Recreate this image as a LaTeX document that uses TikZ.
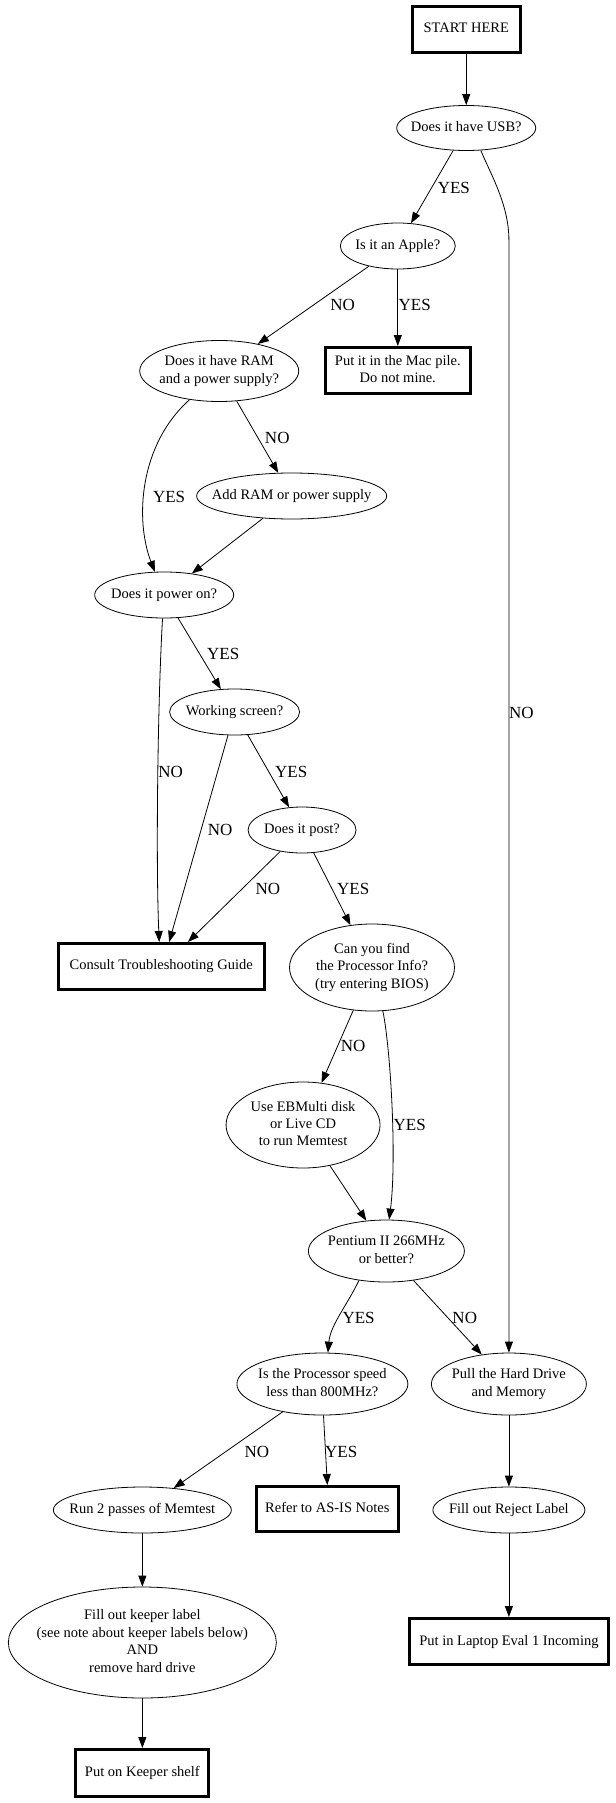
\documentclass[tikz,border=0pt]{standalone}
\usepackage{fontspec}
\setmainfont{Liberation Serif}
\usetikzlibrary{shapes.geometric, arrows.meta, calc}
\newcommand\nodetxt[1]{\makebox[0pt]{\begin{tabular}{@{}c@{}}#1\end{tabular}}}
\begin{document}
\begin{tikzpicture}[x=0.992pt, y=-1pt,
  ell/.style={ellipse, draw, line width=0.8pt, inner sep=0pt, font=\fontsize{14.5}{17.4}\selectfont},
  bx/.style={rectangle, draw, line width=3pt, inner sep=0pt, font=\fontsize{14.5}{17.4}\selectfont},
  edge/.style={draw, line width=0.8pt, -{Triangle[length=11pt,width=8pt]}},
  lbl/.style={inner sep=0pt, font=\fontsize{17}{20}\selectfont}]
\useasboundingbox (0,0) rectangle (620,1803);
% nodes
\node[bx, minimum width=108pt, minimum height=46pt] (start) at (470,29.5) {\nodetxt{START HERE}};
\node[ell, minimum width=139pt, minimum height=45pt] (usb) at (470,128) {\nodetxt{Does it have USB?}};
\node[ell, minimum width=115pt, minimum height=46pt] (apple) at (401,246) {\nodetxt{Is it an Apple?}};
\node[ell, minimum width=159pt, minimum height=61pt] (ram) at (221,371) {\nodetxt{Does it have RAM\\and a power supply?}};
\node[bx, minimum width=145pt, minimum height=46pt] (mac) at (401,370.5) {\nodetxt{Put it in the Mac pile.\\Do not mine.}};
\node[ell, minimum width=190pt, minimum height=46pt] (addram) at (294,496) {\nodetxt{Add RAM or power supply}};
\node[ell, minimum width=139pt, minimum height=46pt] (power) at (165.5,595) {\nodetxt{Does it power on?}};
\node[ell, minimum width=130pt, minimum height=46pt] (working) at (236.5,712) {\nodetxt{Working screen?}};
\node[ell, minimum width=108pt, minimum height=46pt] (post) at (304.5,830) {\nodetxt{Does it post?}};
\node[bx, minimum width=206pt, minimum height=46pt] (consult) at (162.5,966.5) {\nodetxt{Consult Troubleshooting Guide}};
\node[ell, minimum width=165pt, minimum height=87pt] (canyou) at (375,967.5) {\nodetxt{Can you find\\the Processor Info?\\(try entering BIOS)}};
\node[ell, minimum width=154pt, minimum height=86pt] (ebmulti) at (305.5,1125) {\nodetxt{Use EBMulti disk\\or Live CD\\to run Memtest}};
\node[ell, minimum width=156pt, minimum height=62pt] (pentium) at (389.5,1251) {\nodetxt{Pentium II 266MHz\\or better?}};
\node[ell, minimum width=171pt, minimum height=62pt] (procspeed) at (325,1384) {\nodetxt{Is the Processor speed\\less than 800MHz?}};
\node[ell, minimum width=155pt, minimum height=62pt] (pull) at (513,1384) {\nodetxt{Pull the Hard Drive\\and Memory}};
\node[ell, minimum width=178pt, minimum height=46pt] (run) at (143.5,1510) {\nodetxt{Run 2 passes of Memtest}};
\node[bx, minimum width=142pt, minimum height=45pt] (refer) at (330,1509) {\nodetxt{Refer to AS-IS Notes}};
\node[ell, minimum width=152pt, minimum height=46pt] (reject) at (513,1510) {\nodetxt{Fill out Reject Label}};
\node[bx, minimum width=199pt, minimum height=46pt] (laptop) at (513,1641.5) {\nodetxt{Put in Laptop Eval 1 Incoming}};
\node[ell, minimum width=268pt, minimum height=111pt] (fill) at (143.5,1642.5) {\nodetxt{Fill out keeper label\\(see note about keeper labels below)\\AND\\remove hard drive}};
\node[bx, minimum width=133pt, minimum height=47pt] (keeper) at (143.5,1773) {\nodetxt{Put on Keeper shelf}};
\coordinate (nobend) at (513,240);
% edges
\draw[edge] (start) -- (usb);
\draw[edge] (usb) -- (apple);
\draw[edge] (usb.-57) .. controls (495,175) and (513,205) .. (nobend) -- (pull.north);
\draw[edge] (apple) -- (ram);
\draw[edge] (apple.south) -- (mac.north);
\draw[edge] (ram) -- (addram);
\draw[edge] (ram.-136) .. controls (140,445) and (136,520) .. (power.112);
\draw[edge] (addram) -- (power);
\draw[edge] (power) -- (working);
\draw[edge] (power.-94) .. controls (159,700) and (157,860) .. ($(consult.north)+(-2,0)$);
\draw[edge] (working) -- ($(consult.north)+(8,0)$);
\draw[edge] (working) -- (post);
\draw[edge] (post) -- ($(consult.north)+(27,0)$);
\draw[edge] (post) -- (canyou);
\draw[edge] (canyou) -- (ebmulti);
\draw[edge] (canyou.-76) .. controls (394,1050) and (400,1160) .. (pentium.85);
\draw[edge] (ebmulti) -- (pentium);
\draw[edge] (pentium.-133) .. controls (350,1305) and (333,1325) .. (procspeed.80);
\draw[edge] (pentium) -- (pull);
\draw[edge] (procspeed) -- (run);
\draw[edge] (procspeed.-88) -- (refer.north);
\draw[edge] (pull) -- (reject);
\draw[edge] (reject) -- (laptop);
\draw[edge] (run) -- (fill);
\draw[edge] (fill) -- (keeper);
% labels
\node[lbl] (l1) at (457.5,188) {YES};
\node[lbl] (l2) at (345.5,305) {NO};
\node[lbl] (l3) at (418,305) {YES};
\node[lbl] (l4) at (279.5,438) {NO};
\node[lbl] (l5) at (170.5,497) {YES};
\node[lbl] (l6) at (172,772) {NO};
\node[lbl] (l7) at (225,654) {YES};
\node[lbl] (l8) at (222,830) {NO};
\node[lbl] (l9) at (293.5,772) {YES};
\node[lbl] (l10) at (270,889) {NO};
\node[lbl] (l11) at (356,889) {YES};
\node[lbl] (l12) at (525.5,713) {NO};
\node[lbl] (l13) at (356,1046) {NO};
\node[lbl] (l14) at (413,1125) {YES};
\node[lbl] (l15) at (361.5,1318) {YES};
\node[lbl] (l16) at (468.5,1318) {NO};
\node[lbl] (l17) at (259,1452) {NO};
\node[lbl] (l18) at (344,1452) {YES};
\end{tikzpicture}
\end{document}
